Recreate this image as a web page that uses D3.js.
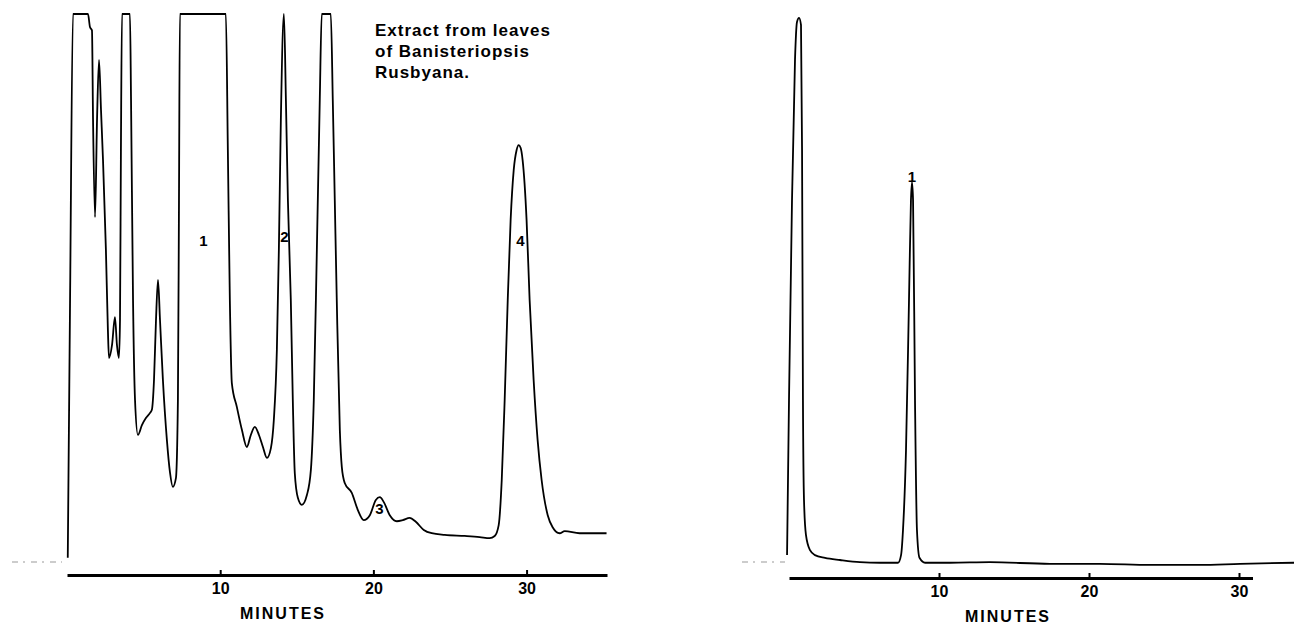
<!DOCTYPE html>
<html>
<head>
<meta charset="utf-8">
<script src="https://cdn.jsdelivr.net/npm/d3@7"></script>
<style>
  html, body { margin: 0; padding: 0; background: #fff; }
  svg { display: block; }
  text { font-family: "Liberation Sans", Arial, sans-serif; font-weight: bold; fill: #000; }
</style>
</head>
<body>
<svg id="chart" width="1294" height="624"></svg>
<script>
// left trace: extract from leaves, [minutes, detector response (0-100, 100 = pen limit)]
const extractTrace = [
  [0.05, 0.4], [0.2, 47.6], [0.39, 100], [1.37, 100], [1.5, 97.6], [1.63, 97],
  [1.7, 80.6], [1.83, 62.8], [1.96, 80.6], [2.09, 91.6], [2.22, 82.4], [2.35, 73.3],
  [2.54, 56.8], [2.67, 42.1], [2.74, 37.0], [2.94, 39.4], [3.13, 44.5], [3.26, 39.4],
  [3.39, 37.0], [3.46, 44], [3.52, 75.1], [3.59, 100], [4.11, 100], [4.18, 84.2],
  [4.31, 47.6], [4.44, 29.3], [4.63, 22.9], [4.89, 24.7], [5.15, 26.0], [5.41, 26.9],
  [5.54, 27.5], [5.68, 33.0], [5.81, 44.0], [5.94, 51.3], [6.07, 44.0], [6.26, 33.0],
  [6.52, 22.0], [6.72, 16.1], [6.91, 13.4], [7.11, 15.0], [7.24, 29.3], [7.31, 65.9],
  [7.37, 100], [10.37, 100], [10.5, 75.1], [10.63, 47.6], [10.76, 32.4], [11.09, 28.0],
  [11.42, 23.8], [11.74, 20.7], [12.0, 22.9], [12.26, 24.4], [12.53, 22.9], [12.79, 20.7],
  [13.05, 18.7], [13.31, 20.5], [13.5, 25.6], [13.7, 38.5], [13.83, 56.8], [13.96, 80.6],
  [14.16, 100], [14.29, 84.2], [14.42, 65.9], [14.61, 47.6], [14.74, 29.3], [14.87, 15.9],
  [15.07, 11.4], [15.33, 10.1], [15.66, 11.9], [15.92, 16.5], [16.11, 29.3], [16.31, 56.8],
  [16.5, 84.2], [16.63, 100], [17.22, 100], [17.35, 84.2], [17.48, 65.9], [17.61, 47.6],
  [17.81, 23.8], [17.94, 17.0], [18.13, 14.1], [18.59, 12.3], [18.98, 9.2], [19.37, 7.3],
  [19.77, 8.2], [20.16, 11.0], [20.42, 11.5], [20.68, 10.6], [21.07, 8.2], [21.53, 7.1],
  [21.92, 7.3], [22.37, 7.7], [22.77, 7.0], [23.29, 5.5], [23.81, 4.9], [24.66, 4.6],
  [25.96, 4.4], [26.94, 4.2], [27.59, 4.0], [27.92, 4.4], [28.18, 6.4], [28.38, 14.7],
  [28.57, 29.3], [28.77, 47.6], [28.96, 62.3], [29.16, 71.4], [29.35, 75.1], [29.48, 76.0],
  [29.61, 75.5], [29.74, 73.3], [30.0, 62.3], [30.2, 47.6], [30.46, 33.0], [30.72, 22.0],
  [30.98, 14.7], [31.38, 8.2], [31.7, 6.0], [32.16, 4.9], [32.49, 5.3], [33.46, 4.9],
  [35.22, 4.9]
];

// right trace: standard
const standardTrace = [
  [-0.13, 0.9], [0.0, 29.3], [0.2, 65.9], [0.4, 91.6], [0.53, 98.5], [0.67, 99.3],
  [0.8, 98.0], [0.87, 75.1], [0.93, 29.3], [1.0, 11.0], [1.13, 4.6], [1.4, 1.8],
  [1.73, 0.9], [2.4, 0.4], [3.4, 0], [4.73, -0.4], [6.07, -0.5], [7.27, -0.5],
  [7.47, 0.9], [7.6, 5.5], [7.8, 20.1], [8.0, 47.6], [8.13, 65.9], [8.2, 69.2],
  [8.27, 65.9], [8.4, 29.3], [8.53, 5.5], [8.7, 0.4], [9.07, -0.5], [10.73, -0.5],
  [13.4, -0.4], [17.4, -0.7], [20.73, -0.7], [24.07, -0.9], [27.4, -0.9], [30.07, -0.7],
  [33.67, -0.5]
];

const extractPeaks = [
  { label: "1", t: 8.9, v: 57.5 },
  { label: "2", t: 14.2, v: 58.2 },
  { label: "3", t: 20.4, v: 8.4 },
  { label: "4", t: 29.6, v: 57.5 }
];
const standardPeaks = [
  { label: "1", t: 8.2, v: 69.2 }
];

const tickValues = [10, 20, 30];
const captionLines = ["Extract from leaves", "of Banisteriopsis", "Rusbyana."];

const svg = d3.select("#chart");

const y = d3.scaleLinear().domain([0, 100]).range([560, 14]);
const xLeft = d3.scaleLinear().domain([0, 35.25]).range([67, 607]);
const xRight = d3.scaleLinear().domain([0, 30.9]).range([789, 1252.5]);

function panel(x, trace, peaks, axisY, dashFrom, dashTo, dashY) {
  const g = svg.append("g");

  // faint pen trail left of the chart
  g.append("line")
    .attr("x1", dashFrom).attr("x2", dashTo)
    .attr("y1", dashY).attr("y2", dashY)
    .attr("stroke", "#999").attr("stroke-width", 1.2)
    .attr("stroke-dasharray", "6 5 2 6");

  const line = d3.line()
    .x(d => x(d[0]))
    .y(d => y(d[1]))
    .curve(d3.curveMonotoneX);

  g.append("path")
    .datum(trace)
    .attr("d", line)
    .attr("fill", "none")
    .attr("stroke", "#000")
    .attr("stroke-width", 1.8)
    .attr("stroke-linejoin", "round");

  g.selectAll(".peak")
    .data(peaks)
    .join("text")
    .attr("class", "peak")
    .attr("x", d => x(d.t))
    .attr("y", d => y(d.v))
    .attr("text-anchor", "middle")
    .style("font-size", "15px")
    .text(d => d.label);

  const axis = d3.axisBottom(x)
    .tickValues(tickValues)
    .tickFormat(d3.format("d"))
    .tickSizeInner(-5)
    .tickSizeOuter(0)
    .tickPadding(8);

  const ax = g.append("g")
    .attr("transform", `translate(0,${axisY})`)
    .call(axis);
  ax.select(".domain").attr("stroke", "#000").attr("stroke-width", 3);
  ax.selectAll(".tick line").attr("stroke", "#000").attr("stroke-width", 2);
  ax.selectAll(".tick text")
    .style("font-family", "'Liberation Sans', Arial, sans-serif")
    .style("font-weight", "bold")
    .style("font-size", "16px")
    .attr("fill", "#000");

  return g;
}

panel(xLeft, extractTrace, extractPeaks, 575, 12, 62, 562);
panel(xRight, standardTrace, standardPeaks, 578, 742, 785, 562);

// axis titles
svg.append("text")
  .attr("x", 283).attr("y", 619)
  .attr("text-anchor", "middle")
  .style("font-size", "16px")
  .style("letter-spacing", "2px")
  .text("MINUTES");

svg.append("text")
  .attr("x", 1008).attr("y", 622)
  .attr("text-anchor", "middle")
  .style("font-size", "16px")
  .style("letter-spacing", "2px")
  .text("MINUTES");

// caption
svg.append("g")
  .selectAll("text")
  .data(captionLines)
  .join("text")
  .attr("x", 375)
  .attr("y", (d, i) => 36 + i * 21)
  .style("font-size", "17px")
  .style("letter-spacing", "1px")
  .text(d => d);
</script>
</body>
</html>
